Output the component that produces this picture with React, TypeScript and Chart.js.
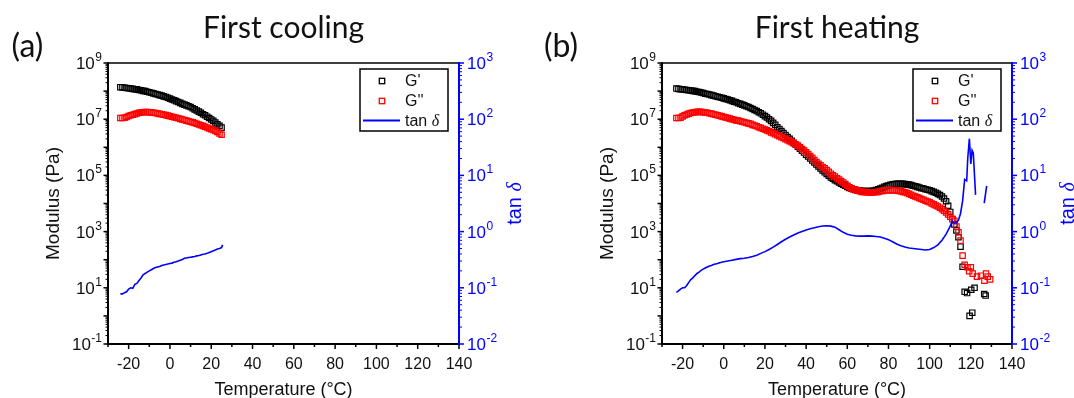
import React, { useEffect, useRef } from 'react';
import { Chart, registerables } from 'chart.js';

Chart.register(...registerables);

// ---------------- DATA ----------------
// Panel (a): first cooling
const coolingTemp = [
  -24, -23, -22, -21, -20, -19, -18, -17, -16, -15, -14, -13, -12, -11, -10, -9, -8, -7, -6, -5,
  -4, -3, -2, -1, 0, 1, 2, 3, 4, 5, 6, 7, 8, 9, 10, 11, 12, 13, 14, 15,
  16, 17, 18, 19, 20, 21, 22, 23, 24, 25,
];
const coolingStorage = [
  1.38e8, 1.35e8, 1.32e8, 1.29e8, 1.26e8, 1.23e8, 1.2e8, 1.17e8, 1.15e8, 1.1e8,
  1.07e8, 1.02e8, 1.0e8, 9.5e7, 9.1e7, 8.7e7, 8.3e7, 7.9e7, 7.6e7, 7.2e7,
  6.9e7, 6.5e7, 6.2e7, 5.8e7, 5.4e7, 5.0e7, 4.7e7, 4.4e7, 4.1e7, 3.8e7,
  3.5e7, 3.3e7, 3.1e7, 2.9e7, 2.7e7, 2.45e7, 2.24e7, 2.04e7, 1.86e7, 1.7e7,
  1.51e7, 1.38e7, 1.23e7, 1.1e7, 9.8e6, 8.7e6, 7.6e6, 6.6e6, 5.8e6, 5.0e6,
];
const coolingLoss = [
  1.1e7, 1.1e7, 1.12e7, 1.2e7, 1.3e7, 1.38e7, 1.45e7, 1.52e7, 1.6e7, 1.7e7,
  1.74e7, 1.78e7, 1.8e7, 1.8e7, 1.78e7, 1.75e7, 1.7e7, 1.66e7, 1.6e7, 1.55e7,
  1.5e7, 1.45e7, 1.4e7, 1.34e7, 1.28e7, 1.23e7, 1.18e7, 1.13e7, 1.08e7, 1.03e7,
  9.8e6, 9.3e6, 8.9e6, 8.5e6, 8.1e6, 7.7e6, 7.3e6, 6.9e6, 6.5e6, 6.1e6,
  5.8e6, 5.4e6, 5.1e6, 4.7e6, 4.4e6, 4.1e6, 3.8e6, 3.5e6, 3.1e6, 2.8e6,
];
const coolingTanTemp = [
  -24, -23, -22, -21, -20, -19, -18, -17, -16, -15, -14, -13, -12, -11, -10, -9, -8, -7, -6, -5,
  -4, -3, -2, -1, 0, 1, 2, 3, 4, 5, 6, 7, 8, 9, 10, 11, 12, 13, 14, 15,
  16, 17, 18, 19, 20, 21, 22, 23, 24, 25, 25.5,
];
const coolingTan = [
  0.078, 0.078, 0.082, 0.085, 0.095, 0.1, 0.098, 0.115, 0.12, 0.135,
  0.15, 0.17, 0.18, 0.19, 0.2, 0.21, 0.22, 0.23, 0.235, 0.24,
  0.25, 0.255, 0.26, 0.265, 0.27, 0.275, 0.285, 0.29, 0.3, 0.31,
  0.32, 0.335, 0.34, 0.345, 0.35, 0.355, 0.36, 0.37, 0.375, 0.385,
  0.395, 0.4, 0.41, 0.425, 0.44, 0.455, 0.47, 0.49, 0.5, 0.52, 0.58,
];

// Panel (b): first heating
const heatingStorageTemp = [
  -23, -22, -21, -20, -19, -18, -17, -16, -15, -14, -13, -12, -11, -10, -9, -8, -7, -6, -5, -4,
  -3, -2, -1, 0, 1, 2, 3, 4, 5, 6, 7, 8, 9, 10, 11, 12, 13, 14, 15, 16,
  17, 18, 19, 20, 21, 22, 23, 24, 25, 26, 27, 28, 29, 30, 31, 32, 33, 34, 35, 36,
  37, 38, 39, 40, 41, 42, 43, 44, 45, 46, 47, 48, 49, 50, 51, 52, 53, 54, 55, 56,
  57, 58, 59, 60, 61, 62, 63, 64, 65, 66, 67, 68, 69, 70, 71, 72, 73, 74, 75, 76,
  77, 78, 79, 80, 81, 82, 83, 84, 85, 86, 87, 88, 89, 90, 91, 92, 93, 94, 95, 96,
  97, 98, 99, 100, 101, 102, 103, 104, 105, 106, 107, 108, 109, 110, 111, 112, 113, 114, 115, 116,
  117, 118.2, 119.4, 120.2, 120.7, 121.8, 126.5, 127.2,
];
const heatingStorage = [
  1.23e8, 1.2e8, 1.17e8, 1.15e8, 1.12e8, 1.1e8, 1.07e8, 1.05e8, 1.02e8, 1.0e8,
  9.5e7, 9.3e7, 8.9e7, 8.5e7, 8.1e7, 7.9e7, 7.6e7, 7.2e7, 6.9e7, 6.6e7,
  6.3e7, 6.0e7, 5.8e7, 5.5e7, 5.2e7, 5.0e7, 4.7e7, 4.5e7, 4.2e7, 4.0e7,
  3.7e7, 3.5e7, 3.3e7, 3.1e7, 2.9e7, 2.7e7, 2.5e7, 2.3e7, 2.14e7, 1.95e7,
  1.78e7, 1.62e7, 1.45e7, 1.29e7, 1.15e7, 1.0e7, 8.7e6, 7.4e6, 6.3e6, 5.2e6,
  4.5e6, 3.8e6, 3.2e6, 2.75e6, 2.3e6, 2.0e6, 1.7e6, 1.45e6, 1.23e6, 1.05e6,
  8.9e5, 7.6e5, 6.5e5, 5.5e5, 4.7e5, 4.0e5, 3.4e5, 2.9e5, 2.45e5, 2.1e5,
  1.78e5, 1.5e5, 1.29e5, 1.12e5, 9.8e4, 8.5e4, 7.6e4, 6.8e4, 6.2e4, 5.6e4,
  5.1e4, 4.7e4, 4.3e4, 3.9e4, 3.6e4, 3.4e4, 3.2e4, 3.1e4, 2.95e4, 2.9e4,
  2.8e4, 2.75e4, 2.75e4, 2.75e4, 2.75e4, 2.8e4, 2.9e4, 3.0e4, 3.2e4, 3.4e4,
  3.6e4, 3.9e4, 4.2e4, 4.4e4, 4.6e4, 4.8e4, 4.9e4, 5.0e4, 5.0e4, 5.0e4,
  5.0e4, 4.9e4, 4.8e4, 4.7e4, 4.5e4, 4.3e4, 4.1e4, 3.9e4, 3.7e4, 3.5e4,
  3.4e4, 3.2e4, 3.1e4, 2.95e4, 2.75e4, 2.6e4, 2.4e4, 2.2e4, 2.0e4, 1.78e4,
  1.51e4, 1.2e4, 8.3e3, 5.0e3, 2.8e3, 1.8e3, 1.1e3, 630, 290, 56,
  7.2, 6.5, 1.0, 8.5, 1.3, 10, 6.0, 5.3,
];
const heatingLossTemp = [
  -23, -22, -21, -20, -19, -18, -17, -16, -15, -14, -13, -12, -11, -10, -9, -8, -7, -6, -5, -4,
  -3, -2, -1, 0, 1, 2, 3, 4, 5, 6, 7, 8, 9, 10, 11, 12, 13, 14, 15, 16,
  17, 18, 19, 20, 21, 22, 23, 24, 25, 26, 27, 28, 29, 30, 31, 32, 33, 34, 35, 36,
  37, 38, 39, 40, 41, 42, 43, 44, 45, 46, 47, 48, 49, 50, 51, 52, 53, 54, 55, 56,
  57, 58, 59, 60, 61, 62, 63, 64, 65, 66, 67, 68, 69, 70, 71, 72, 73, 74, 75, 76,
  77, 78, 79, 80, 81, 82, 83, 84, 85, 86, 87, 88, 89, 90, 91, 92, 93, 94, 95, 96,
  97, 98, 99, 100, 101, 102, 103, 104, 105, 106, 107, 108, 109, 110, 111, 112, 113, 114, 115, 116,
  117, 118.4, 119.2, 120, 120.9, 123, 124.9, 126.6, 127.4, 128.2, 129.4,
];
const heatingLoss = [
  1.1e7, 1.1e7, 1.12e7, 1.26e7, 1.38e7, 1.48e7, 1.58e7, 1.66e7, 1.74e7, 1.78e7,
  1.82e7, 1.82e7, 1.82e7, 1.78e7, 1.74e7, 1.7e7, 1.62e7, 1.58e7, 1.51e7, 1.45e7,
  1.38e7, 1.32e7, 1.26e7, 1.2e7, 1.15e7, 1.1e7, 1.05e7, 1.0e7, 9.5e6, 9.1e6,
  8.9e6, 8.5e6, 8.1e6, 7.8e6, 7.4e6, 7.1e6, 6.8e6, 6.3e6, 6.0e6, 5.6e6,
  5.2e6, 4.9e6, 4.6e6, 4.3e6, 4.0e6, 3.7e6, 3.4e6, 3.2e6, 2.95e6, 2.7e6,
  2.5e6, 2.3e6, 2.14e6, 1.95e6, 1.78e6, 1.66e6, 1.51e6, 1.38e6, 1.26e6, 1.15e6,
  1.0e6, 8.7e5, 7.6e5, 6.6e5, 5.8e5, 4.9e5, 4.2e5, 3.5e5, 3.0e5, 2.6e5,
  2.3e5, 2.0e5, 1.78e5, 1.55e5, 1.35e5, 1.15e5, 1.0e5, 9.1e4, 7.9e4, 7.1e4,
  6.3e4, 5.6e4, 4.9e4, 4.3e4, 3.8e4, 3.5e4, 3.2e4, 3.0e4, 2.9e4, 2.75e4,
  2.6e4, 2.55e4, 2.5e4, 2.45e4, 2.45e4, 2.45e4, 2.5e4, 2.55e4, 2.6e4, 2.75e4,
  2.8e4, 2.9e4, 2.95e4, 3.0e4, 3.0e4, 3.0e4, 2.95e4, 2.9e4, 2.8e4, 2.75e4,
  2.6e4, 2.5e4, 2.35e4, 2.2e4, 2.05e4, 1.9e4, 1.78e4, 1.66e4, 1.55e4, 1.45e4,
  1.35e4, 1.26e4, 1.17e4, 1.1e4, 1.0e4, 9.3e3, 8.5e3, 7.8e3, 7.1e3, 6.3e3,
  5.5e3, 4.8e3, 4.1e3, 3.4e3, 2.8e3, 2.45e3, 1.5e3, 950, 480, 140,
  66, 54, 39, 54, 32, 25, 27, 18, 32, 25, 20,
];
const heatingTanTemp = [
  -23, -22, -21, -20, -19, -18, -17, -16, -15, -14, -13, -12, -11, -10, -9, -8, -7, -6, -5, -4,
  -3, -2, -1, 0, 2, 4, 6, 8, 10, 12, 14, 16, 18, 20, 22, 24, 26, 28, 30, 32,
  34, 36, 38, 40, 42, 44, 46, 48, 50, 52, 54, 56, 58, 60, 62, 64, 66, 68, 70, 72,
  74, 76, 78, 80, 82, 84, 86, 88, 90, 92, 94, 96, 98, 100, 102, 104, 106, 108, 110, 111,
  112, 113, 114, 115, 116, 117, 118, 118.5, 119.3, 120, 120.6, 121.2, 122.3, 124, 126.5, 127.7,
];
const heatingTan = [
  0.083, 0.088, 0.095, 0.1, 0.1, 0.11, 0.125, 0.14, 0.15, 0.165,
  0.18, 0.19, 0.205, 0.215, 0.225, 0.235, 0.245, 0.25, 0.26, 0.265,
  0.27, 0.28, 0.285, 0.29, 0.3, 0.31, 0.32, 0.33, 0.335, 0.345,
  0.36, 0.38, 0.41, 0.44, 0.48, 0.53, 0.59, 0.66, 0.73, 0.8,
  0.87, 0.94, 1.0, 1.07, 1.12, 1.17, 1.22, 1.26, 1.27, 1.25,
  1.2, 1.08, 0.97, 0.9, 0.86, 0.84, 0.83, 0.83, 0.84, 0.83,
  0.82, 0.8, 0.76, 0.72, 0.66, 0.6, 0.56, 0.53, 0.51, 0.5,
  0.49, 0.48, 0.47, 0.48, 0.52, 0.58, 0.7, 0.9, 1.25, 1.55,
  1.4, 1.45, 1.6, 2.1, 3.5, 8.5, 8.0, 20, 45, 16,
  28, 25, 4.5, null, 3.2, 6.5,
];

// Axis ticks and labels
const xTickValues = [-20, 0, 20, 40, 60, 80, 100, 120, 140];
const modulusTickValues = [0.1, 10, 1e3, 1e5, 1e7, 1e9];
const modulusTickExponents = ['-1', '1', '3', '5', '7', '9'];
const tanTickValues = [0.01, 0.1, 1, 10, 100, 1000];
const tanTickExponents = ['-2', '-1', '0', '1', '2', '3'];
const legendLabels = ["G'", "G''", 'tan δ'];

// ---------------- STYLE ----------------
const SANS = "Arial, 'Liberation Sans', Helvetica, sans-serif";
const SERIF_ITALIC = "italic 400 %SIZE%px 'Liberation Serif', 'Times New Roman', 'DejaVu Serif', serif";
const TITLE_FONT = "Lato, 'Open Sans', 'Noto Sans', sans-serif";
const BLUE = '#0000ff';
const RED = '#ff0000';
const BLACK = '#000000';

function line(ctx: CanvasRenderingContext2D, x1: number, y1: number, x2: number, y2: number) {
  ctx.beginPath();
  ctx.moveTo(x1, y1);
  ctx.lineTo(x2, y2);
  ctx.stroke();
}

function drawPow(ctx: CanvasRenderingContext2D, x: number, y: number, exp: string, align: 'left' | 'right', color: string) {
  ctx.textAlign = 'left';
  ctx.textBaseline = 'alphabetic';
  ctx.fillStyle = color;
  ctx.font = `17px ${SANS}`;
  const wb = ctx.measureText('10').width;
  ctx.font = `12px ${SANS}`;
  const we = ctx.measureText(exp).width;
  const total = wb + 0.5 + we;
  const sx = align === 'right' ? x - total : x;
  ctx.font = `17px ${SANS}`;
  ctx.fillText('10', sx, y + 6);
  ctx.font = `12px ${SANS}`;
  ctx.fillText(exp, sx + wb + 0.5, y - 2);
}

function drawTanDelta(ctx: CanvasRenderingContext2D, x: number, y: number, size: number, align: 'left' | 'center', color: string) {
  ctx.fillStyle = color;
  ctx.textAlign = 'left';
  ctx.font = `${size}px ${SANS}`;
  const w1 = ctx.measureText('tan ').width;
  const dFont = SERIF_ITALIC.replace('%SIZE%', String(size));
  ctx.font = dFont;
  const w2 = ctx.measureText('δ').width;
  const sx = align === 'center' ? x - (w1 + w2) / 2 : x;
  ctx.font = `${size}px ${SANS}`;
  ctx.fillText('tan ', sx, y);
  ctx.font = dFont;
  ctx.fillText('δ', sx + w1, y);
}

type PanelSpec = {
  tag: string;
  title: string;
  tagX: number;
  padLeft: number;
  padRight: number;
  storageTemp: number[];
  storage: number[];
  lossTemp: number[];
  loss: number[];
  tanTemp: number[];
  tan: (number | null)[];
};

function makeDecor(spec: PanelSpec) {
  return {
    id: 'decor',
    afterDraw(chart: any) {
      const ctx: CanvasRenderingContext2D = chart.ctx;
      const a = chart.chartArea;
      const sx = chart.scales.x;
      const sy = chart.scales.y;
      const sy2 = chart.scales.y2;
      ctx.save();
      ctx.lineCap = 'butt';

      // frame: top, left, bottom
      ctx.strokeStyle = BLACK;
      ctx.lineWidth = 1.5;
      line(ctx, a.left, a.top, a.right, a.top);
      ctx.lineWidth = 2;
      line(ctx, a.left, a.top - 0.75, a.left, a.bottom + 1);
      line(ctx, a.left - 1, a.bottom, a.right, a.bottom);

      // x ticks
      ctx.lineWidth = 1.5;
      for (let v = -30; v <= 140; v += 10) {
        const px = sx.getPixelForValue(v);
        const len = xTickValues.includes(v) ? 5 : 3;
        line(ctx, px, a.bottom, px, a.bottom + len);
      }
      ctx.fillStyle = '#111';
      ctx.font = `16px ${SANS}`;
      ctx.textAlign = 'center';
      ctx.textBaseline = 'alphabetic';
      xTickValues.forEach((v) => ctx.fillText(String(v), sx.getPixelForValue(v), a.bottom + 25));

      // left log axis ticks
      for (let e = -1; e <= 9; e++) {
        const py = sy.getPixelForValue(Math.pow(10, e));
        ctx.lineWidth = 1.5;
        line(ctx, a.left, py, a.left - 4.5, py);
        if (e < 9) {
          ctx.lineWidth = 1;
          for (let m = 2; m <= 9; m++) {
            const pm = sy.getPixelForValue(m * Math.pow(10, e));
            line(ctx, a.left, pm, a.left - 2.5, pm);
          }
        }
      }
      modulusTickValues.forEach((v, i) =>
        drawPow(ctx, a.left - 6, sy.getPixelForValue(v), modulusTickExponents[i], 'right', '#111'),
      );

      // right log axis
      ctx.strokeStyle = BLUE;
      ctx.lineWidth = 2;
      line(ctx, a.right, a.top - 1, a.right, a.bottom + 1);
      for (let e = -2; e <= 3; e++) {
        const py = sy2.getPixelForValue(Math.pow(10, e));
        ctx.lineWidth = 1.5;
        line(ctx, a.right, py, a.right + 5, py);
        if (e < 3) {
          ctx.lineWidth = 1;
          for (let m = 2; m <= 9; m++) {
            const pm = sy2.getPixelForValue(m * Math.pow(10, e));
            line(ctx, a.right, pm, a.right + 3, pm);
          }
        }
      }
      tanTickValues.forEach((v, i) =>
        drawPow(ctx, a.right + 8, sy2.getPixelForValue(v), tanTickExponents[i], 'left', BLUE),
      );

      const cy = (a.top + a.bottom) / 2;
      const cx = (a.left + a.right) / 2;

      // axis titles
      ctx.save();
      ctx.translate(a.left - 49, cy);
      ctx.rotate(-Math.PI / 2);
      ctx.fillStyle = '#111';
      ctx.font = `19px ${SANS}`;
      ctx.textAlign = 'center';
      ctx.textBaseline = 'alphabetic';
      ctx.fillText('Modulus (Pa)', 0, 0);
      ctx.restore();

      ctx.save();
      ctx.translate(a.right + 61.5, cy);
      ctx.rotate(-Math.PI / 2);
      ctx.textBaseline = 'alphabetic';
      drawTanDelta(ctx, 0, 0, 20, 'center', BLUE);
      ctx.restore();

      ctx.fillStyle = '#111';
      ctx.font = `18px ${SANS}`;
      ctx.textAlign = 'center';
      ctx.textBaseline = 'alphabetic';
      ctx.fillText('Temperature (°C)', cx, 395);

      // legend
      const lw = 88;
      const lh = 62;
      const lx = a.right - 11 - lw;
      const ly = a.top + 6;
      ctx.fillStyle = '#fff';
      ctx.fillRect(lx, ly, lw, lh);
      ctx.strokeStyle = BLACK;
      ctx.lineWidth = 1.5;
      ctx.strokeRect(lx, ly, lw, lh);
      const rows = [ly + 12, ly + 32, ly + 51.5];
      const markerColors = [BLACK, RED];
      for (let i = 0; i < 2; i++) {
        ctx.strokeStyle = markerColors[i];
        ctx.lineWidth = 1.3;
        ctx.strokeRect(lx + 22 - 2.7, rows[i] - 2.7, 5.4, 5.4);
        ctx.fillStyle = '#111';
        ctx.font = `16px ${SANS}`;
        ctx.textAlign = 'left';
        ctx.textBaseline = 'middle';
        ctx.fillText(legendLabels[i], lx + 45, rows[i] + 1);
      }
      ctx.strokeStyle = BLUE;
      ctx.lineWidth = 2;
      line(ctx, lx + 3, rows[2], lx + 40, rows[2]);
      ctx.textBaseline = 'middle';
      drawTanDelta(ctx, lx + 45, rows[2] + 1, 16, 'left', '#111');

      // panel title and tag
      ctx.fillStyle = '#111';
      ctx.textAlign = 'center';
      ctx.textBaseline = 'alphabetic';
      ctx.font = `30px ${TITLE_FONT}`;
      ctx.fillText(spec.title, cx, 38);
      ctx.font = `32px ${TITLE_FONT}`;
      ctx.fillText(spec.tag, spec.tagX, 57);

      ctx.restore();
    },
  };
}

function Panel({ spec, left }: { spec: PanelSpec; left: number }) {
  const ref = useRef<HTMLCanvasElement>(null);
  useEffect(() => {
    const canvas = ref.current;
    if (!canvas) return;
    const squareDataset = (label: string, temps: number[], vals: number[], color: string) => ({
      label,
      data: temps.map((t, i) => ({ x: t, y: vals[i] })),
      showLine: false,
      pointStyle: 'rect',
      pointRadius: 3.8,
      pointHoverRadius: 3.8,
      pointBorderWidth: 1.2,
      borderColor: color,
      pointBorderColor: color,
      backgroundColor: 'rgba(0,0,0,0)',
      pointBackgroundColor: 'rgba(0,0,0,0)',
      yAxisID: 'y',
    });
    const chart = new Chart(canvas, {
      type: 'scatter',
      data: {
        datasets: [
          {
            label: 'tan δ',
            data: spec.tanTemp.map((t, i) => ({ x: t, y: spec.tan[i] })),
            showLine: true,
            spanGaps: false,
            borderColor: BLUE,
            backgroundColor: BLUE,
            borderWidth: 1.6,
            pointRadius: 0,
            tension: 0,
            yAxisID: 'y2',
          } as any,
          squareDataset("G''", spec.lossTemp, spec.loss, RED) as any,
          squareDataset("G'", spec.storageTemp, spec.storage, BLACK) as any,
        ],
      },
      options: {
        animation: false,
        responsive: false,
        devicePixelRatio: 1,
        events: [],
        layout: { padding: { left: spec.padLeft, right: spec.padRight, top: 63, bottom: 54 } },
        plugins: { legend: { display: false }, title: { display: false }, tooltip: { enabled: false } },
        scales: {
          x: { type: 'linear', min: -30, max: 140, display: false },
          y: { type: 'logarithmic', min: 0.1, max: 1e9, display: false, position: 'left' },
          y2: { type: 'logarithmic', min: 0.01, max: 1000, display: false, position: 'right' },
        },
      },
      plugins: [makeDecor(spec)],
    } as any);
    return () => chart.destroy();
  }, [spec]);
  return (
    <canvas
      ref={ref}
      width={537}
      height={398}
      style={{ position: 'absolute', left, top: 0, width: 537, height: 398 }}
    />
  );
}

const panelA: PanelSpec = {
  tag: '(a)',
  title: 'First cooling',
  tagX: 27.5,
  padLeft: 108,
  padRight: 78,
  storageTemp: coolingTemp,
  storage: coolingStorage,
  lossTemp: coolingTemp,
  loss: coolingLoss,
  tanTemp: coolingTanTemp,
  tan: coolingTan,
};

const panelB: PanelSpec = {
  tag: '(b)',
  title: 'First heating',
  tagX: 24,
  padLeft: 125,
  padRight: 62,
  storageTemp: heatingStorageTemp,
  storage: heatingStorage,
  lossTemp: heatingLossTemp,
  loss: heatingLoss,
  tanTemp: heatingTanTemp,
  tan: heatingTan,
};

export default function App() {
  return (
    <div
      style={{
        position: 'absolute',
        left: 0,
        top: 0,
        width: 1074,
        height: 398,
        background: '#ffffff',
        overflow: 'hidden',
      }}
    >
      <Panel spec={panelA} left={0} />
      <Panel spec={panelB} left={537} />
    </div>
  );
}
